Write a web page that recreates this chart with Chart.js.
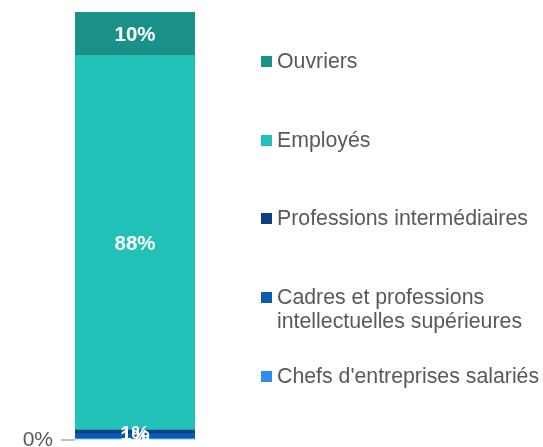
<!DOCTYPE html>
<html>
<head>
<meta charset="utf-8">
<script src="https://cdn.jsdelivr.net/npm/chart.js@4"></script>
<style>
  html, body { margin: 0; padding: 0; background: #fff; overflow: hidden; }
  #wrap { position: relative; width: 543px; height: 456px; }
  #legend { position: absolute; left: 261px; top: 0; font-family: "Liberation Sans", Arial, sans-serif; font-size: 21.3px; color: #595959; }
  .item { position: absolute; left: 0; white-space: nowrap; line-height: 23.5px; }
  .sw { position: absolute; left: 0; top: 6px; width: 11px; height: 11px; }
  .lbl { position: absolute; left: 16px; top: 0; }
</style>
</head>
<body>
<div id="wrap">
  <canvas id="c" width="543" height="456"></canvas>
  <div id="legend"></div>
</div>
<script>
const categories = [''];
const seriesNames = ['Chefs d\'entreprises salariés', 'Cadres et professions intellectuelles supérieures', 'Professions intermédiaires', 'Employés', 'Ouvriers'];
const legendLines = [['Chefs d\'entreprises salariés'], ['Cadres et professions', 'intellectuelles supérieures'], ['Professions intermédiaires'], ['Employés'], ['Ouvriers']];
const chefs = [0.4];
const cadres = [1.1];
const profInter = [0.8];
const employes = [87.6];
const ouvriers = [10.1];
const yTicks = [0];
const yMax = 100;
const colors = ['#2e8bef', '#0b5bb5', '#0a3f85', '#22c1b8', '#1a9188'];

const seriesValues = [chefs, cadres, profInter, employes, ouvriers];

const labelPlugin = {
  id: 'segLabels',
  afterDatasetsDraw(chart) {
    const ctx = chart.ctx;
    ctx.save();
    ctx.font = 'bold 20.5px "Liberation Sans", Arial, sans-serif';
    ctx.fillStyle = '#ffffff';
    ctx.textAlign = 'center';
    ctx.textBaseline = 'middle';
    chart.data.datasets.forEach((ds, i) => {
      const meta = chart.getDatasetMeta(i);
      meta.data.forEach((bar, j) => {
        const v = ds.data[j];
        const r = Math.round(v);
        if (r === 0) return;
        const y = (bar.y + bar.base) / 2;
        ctx.fillText(r + '%', bar.x, y + 2);
      });
    });
    ctx.restore();
  }
};

new Chart(document.getElementById('c'), {
  type: 'bar',
  data: {
    labels: categories,
    datasets: seriesNames.map((n, i) => ({
      label: n,
      data: seriesValues[i],
      backgroundColor: colors[i],
      borderWidth: 0,
      barPercentage: 1,
      categoryPercentage: 1
    }))
  },
  options: {
    responsive: false,
    animation: false,
    events: [],
    layout: { padding: { left: 0, right: 348, top: 12, bottom: 16 } },
    plugins: { legend: { display: false }, tooltip: { enabled: false } },
    scales: {
      x: { stacked: true, display: false },
      y: {
        stacked: true,
        min: 0,
        max: yMax,
        afterBuildTicks(scale) { scale.ticks = yTicks.map(v => ({ value: v })); },
        afterFit(scale) { scale.width = 75; scale.paddingTop = 0; scale.paddingBottom = 0; },
        border: { display: false },
        grid: {
          drawOnChartArea: false,
          tickLength: 14,
          color: '#bfbfbf',
          lineWidth: 2
        },
        ticks: {
          padding: 8,
          color: '#595959',
          font: { family: '"Liberation Sans", Arial, sans-serif', size: 21 },
          callback: (v) => v + '%'
        }
      }
    }
  },
  plugins: [labelPlugin]
});

// HTML legend, top to bottom (reverse of stacking order)
const legend = document.getElementById('legend');
const firstCenter = 61.7, step = 78.75;
for (let k = 0; k < seriesNames.length; k++) {
  const i = seriesNames.length - 1 - k;
  const item = document.createElement('div');
  item.className = 'item';
  item.style.top = (firstCenter + k * step - 11.75) + 'px';
  const sw = document.createElement('span');
  sw.className = 'sw';
  sw.style.background = colors[i];
  const lbl = document.createElement('span');
  lbl.className = 'lbl';
  lbl.innerHTML = legendLines[i].map(s => s.replace(/&/g, '&amp;').replace(/</g, '&lt;')).join('<br>');
  item.appendChild(sw);
  item.appendChild(lbl);
  legend.appendChild(item);
}
</script>
</body>
</html>
